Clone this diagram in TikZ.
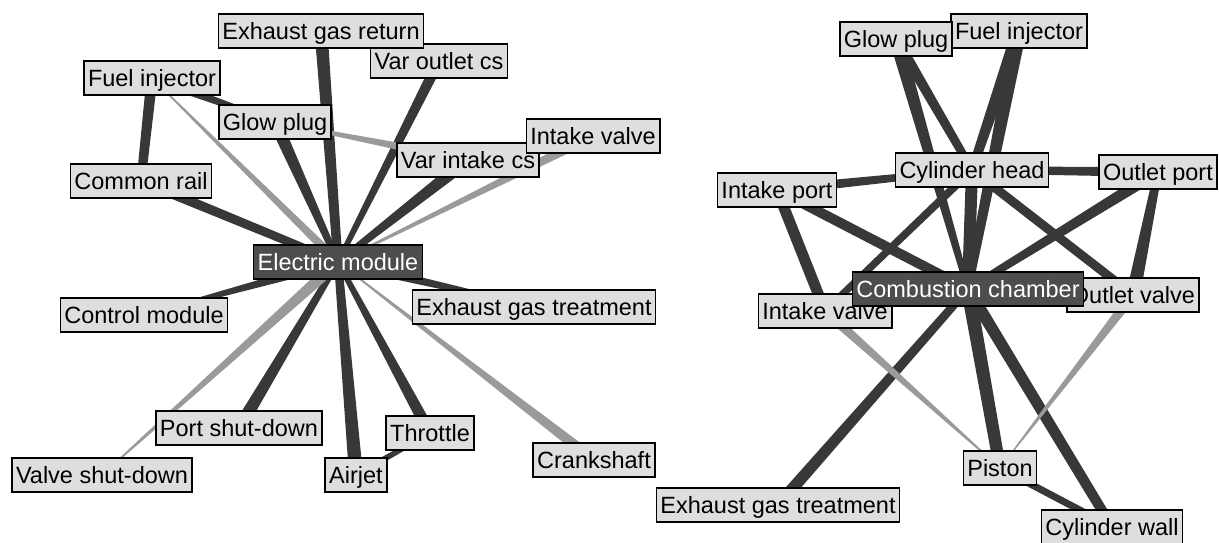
\documentclass[tikz,border=0pt]{standalone}
\usepackage{fontspec}
\setmainfont{Liberation Sans}
\usetikzlibrary{calc}
\pgfdeclarelayer{edges}
\pgfsetlayers{edges,main}
\definecolor{boxfill}{HTML}{DEDEDE}
\definecolor{hubfill}{HTML}{4D4D4D}
\definecolor{strong}{HTML}{383838}
\definecolor{weak}{HTML}{9A9A9A}
% tapered connector: [colour]{from}{to}{width at from}{width at to}
\newcommand\taperedge[5][strong]{%
  \pgfmathsetlengthmacro\halfa{#4/2}\pgfmathsetlengthmacro\halfb{#5/2}%
  \fill[#1] ($(#2)!\halfa!90:(#3)$) -- ($(#3)!\halfb!-90:(#2)$)
    -- ($(#3)!\halfb!90:(#2)$) -- ($(#2)!\halfa!-90:(#3)$) -- cycle;}
\tikzset{
  item/.style={draw=black, line width=1.6pt, fill=boxfill, text=black,
    font=\fontsize{23.5}{28}\selectfont, inner xsep=4pt, inner ysep=8.5pt,
    text height=17pt, text depth=0pt},
  hub/.style={item, fill=hubfill, text=white},
}
\begin{document}
\begin{tikzpicture}[x=1pt, y=-1pt]
\useasboundingbox (0,0) rectangle (1219,542);

% ---- left network: electric module ----
\node[item] (voc)  at (439,61)  {Var outlet cs};
\node[item] (egr)  at (321,31)  {Exhaust gas return};
\node[item] (fil)  at (152,78)  {Fuel injector};
\node[item] (gpl)  at (275,122) {Glow plug};
\node[item] (vic)  at (468,160) {Var intake cs};
\node[item] (ivl)  at (593,136) {Intake valve};
\node[item] (cr)   at (141,181) {Common rail};
\node[item] (cm)   at (144,315) {Control module};
\node[item] (egtl) at (534,307) {Exhaust gas treatment};
\node[item] (psd)  at (239,428) {Port shut-down};
\node[item] (vsd)  at (102,475) {Valve shut-down};
\node[item] (aj)   at (356,475) {Airjet};
\node[item] (th)   at (430,433) {Throttle};
\node[item] (cs)   at (594,460) {Crankshaft};
\node[hub]  (em)   at (338,262) {Electric module};

% ---- right network: combustion chamber ----
\node[item] (fir)  at (1019,31)  {Fuel injector};
\node[item] (gpr)  at (896,39)   {Glow plug};
\node[item] (ch)   at (972,170)  {Cylinder head};
\node[item] (op)   at (1158,172) {Outlet port};
\node[item] (ip)   at (777,190)  {Intake port};
\node[item] (ivr)  at (825,311)  {Intake valve};
\node[item] (ov)   at (1133,295) {Outlet valve};
\node[item] (pi)   at (1000,468) {Piston};
\node[item] (cw)   at (1112,527) {Cylinder wall};
\node[item] (egtr) at (778,505)  {Exhaust gas treatment};
\node[hub]  (cc)   at (968,289)  {Combustion chamber};

\begin{pgfonlayer}{edges}
  % left network
  \taperedge{egr}{em}{13}{9}
  \taperedge{voc}{em}{11}{5}
  \taperedge{gpl}{em}{13}{6}
  \taperedge[weak]{fil}{em}{1}{9}
  \taperedge{cr}{em}{10}{8}
  \taperedge{vic}{em}{13}{6}
  \taperedge[weak]{ivl}{em}{10}{1.5}
  \taperedge[weak]{vic}{gpl}{10}{2}
  \taperedge{cm}{em}{3}{10}
  \taperedge{egtl}{em}{4}{10}
  \taperedge[weak]{cs}{em}{11}{1}
  \taperedge{th}{em}{12}{5}
  \taperedge{aj}{em}{14}{8}
  \taperedge{psd}{em}{13}{6}
  \taperedge[weak]{vsd}{em}{1}{12}
  \taperedge{fil}{cr}{11}{9}
  \taperedge{fil}{gpl}{9}{5}
  \taperedge{aj}{th}{6}{5}
  % right network
  \taperedge{gpr}{ch}{11}{8}
  \taperedge{gpr}{cc}{14}{6}
  \taperedge{fir}{ch}{14}{9}
  \taperedge{fir}{cc}{15}{8}
  \taperedge{ch}{op}{7}{10}
  \taperedge{ip}{ch}{10}{6}
  \taperedge{ch}{cc}{12}{12}
  \taperedge{ch}{ov}{9}{9}
  \taperedge{ch}{ivr}{8}{7}
  \taperedge{op}{cc}{12}{7}
  \taperedge{op}{ov}{8}{14}
  \taperedge{ip}{ivr}{11}{11}
  \taperedge{ip}{cc}{10}{10}
  \taperedge{cc}{pi}{14}{12}
  \taperedge{cc}{cw}{12}{10}
  \taperedge{egtr}{cc}{12}{8}
  \taperedge[weak]{ivr}{pi}{10}{1}
  \taperedge[weak]{ov}{pi}{10}{0.5}
  \taperedge{pi}{cw}{7}{7}
\end{pgfonlayer}
\end{tikzpicture}
\end{document}
